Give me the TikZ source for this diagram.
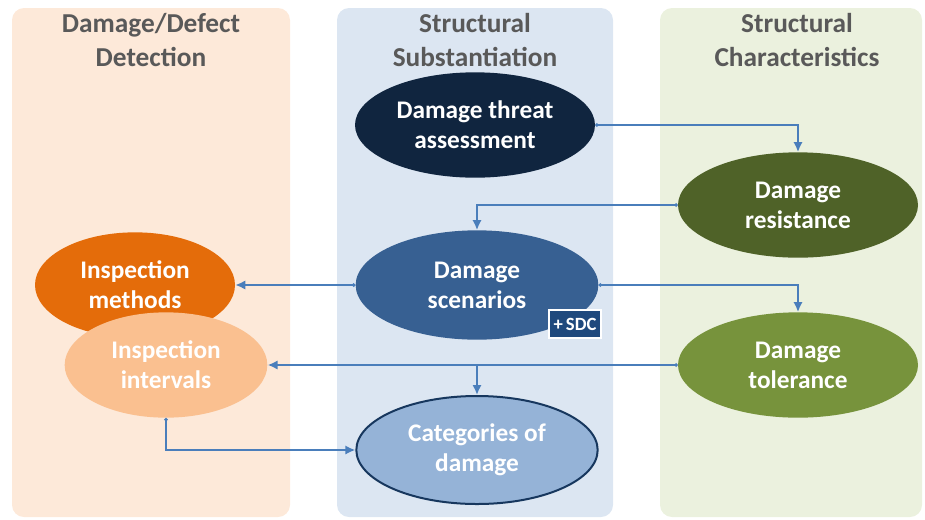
\documentclass[tikz,border=0pt]{standalone}
\usepackage{fontspec}
\setmainfont{Carlito}
\usepackage{xcolor}
\usetikzlibrary{shapes.geometric, arrows.meta, positioning}

\definecolor{detectbg}{HTML}{FDE9D9}
\definecolor{substbg}{HTML}{DCE6F2}
\definecolor{charbg}{HTML}{EBF1DE}
\definecolor{headgray}{HTML}{595959}
\definecolor{threatblue}{HTML}{10253F}
\definecolor{scenblue}{HTML}{376092}
\definecolor{catblue}{HTML}{95B3D7}
\definecolor{catedge}{HTML}{17375E}
\definecolor{resgreen}{HTML}{4F6228}
\definecolor{tolgreen}{HTML}{77933C}
\definecolor{methorange}{HTML}{E46C0A}
\definecolor{intorange}{HTML}{FAC090}
\definecolor{flowblue}{HTML}{4A7EBB}
\definecolor{sdcblue}{HTML}{1F497D}

\begin{document}
\begin{tikzpicture}[
    x=0.75pt, y=-0.75pt,
    panel/.style={rounded corners=9pt},
    header/.style={text=headgray, font=\fontsize{20.5}{25}\selectfont\bfseries, align=center},
    blob/.style={ellipse, inner sep=0pt, minimum width=180pt, minimum height=79pt, text=white,
        font=\fontsize{19}{22.5}\selectfont\bfseries, align=center},
    line/.style={draw=flowblue, line width=1.6pt},
    flow/.style={line, {Circle[length=2.5pt]}-{Latex[length=7.5pt,width=7pt]}},
    branchflow/.style={line, -{Latex[length=7.5pt,width=7pt]}}
]
    \useasboundingbox (0,0) rectangle (925,519);
    % columns
    \fill [panel, detectbg] (12,8) rectangle (290,517);
    \fill [panel, substbg] (337,8) rectangle (613,517);
    \fill [panel, charbg] (660,8) rectangle (922,517);
    \node [header] (hdetect) at (151,40) {Damage/Defect\\Detection};
    \node [header] (hsubst) at (475,40) {Structural\\Substantiation};
    \node [header] (hchar) at (797,40) {Structural\\Characteristics};
    % ellipses
    \node [blob, fill=threatblue] (threat) at (475,125) {Damage threat\\assessment};
    \node [blob, fill=resgreen] (resistance) at (798,205) {Damage\\resistance};
    \node [blob, fill=scenblue, minimum width=182pt, minimum height=82pt] (scenarios) at (477,285) {Damage\\scenarios};
    \node [blob, fill=methorange, minimum width=150pt] (methods) at (135,285) {Inspection\\methods};
    \node [blob, fill=intorange, minimum width=152pt] (intervals) at (166,365) {Inspection\\intervals};
    \node [blob, fill=tolgreen] (tolerance) at (798,365) {Damage\\tolerance};
    \node [blob, fill=catblue, draw=catedge, line width=1.5pt, minimum width=181pt, minimum height=81pt] (categories) at (477,450) {Categories of\\damage};
    \node [fill=sdcblue, draw=white, line width=1.2pt, text=white, font=\fontsize{14}{16}\selectfont\bfseries,
        minimum width=39pt, minimum height=21pt, inner sep=1pt] (sdc) at (575,324) {+\,SDC};
    % connectors
    \coordinate (branch) at (scenarios.south |- tolerance.west);
    \draw [flow] (threat.east) -| (resistance.north);
    \draw [flow] (resistance.west) -| (scenarios.north);
    \draw [flow] (scenarios.west) -- (methods.east);
    \draw [flow] (scenarios.east) -| (tolerance.north);
    \draw [flow] (tolerance.west) -- (intervals.east);
    \draw [branchflow] (branch) -- (categories.north);
    \draw [flow] (intervals.south) |- (categories.west);
\end{tikzpicture}
\end{document}
